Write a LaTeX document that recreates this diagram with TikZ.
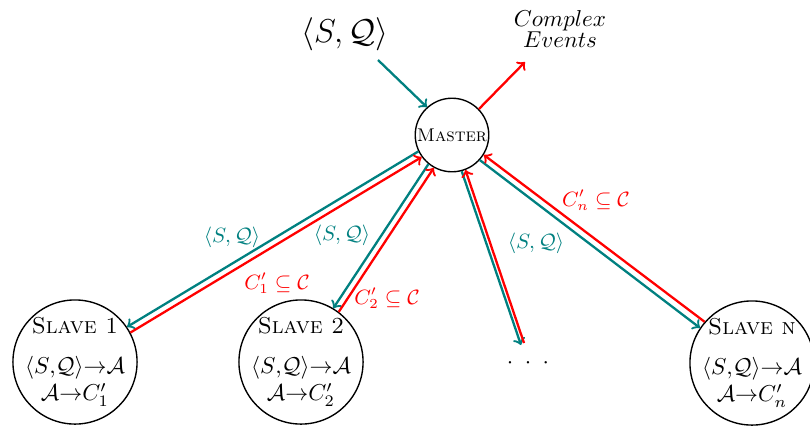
\documentclass[tikz,border=0pt]{standalone}
\begin{document}
\begin{tikzpicture}[x=0.435pt,y=-0.435pt,
  every node/.style={inner sep=0pt},
  slavebox/.style={circle,draw,semithick,minimum size=54pt,align=center,inner sep=-1.5pt},
  masterbox/.style={circle,draw,semithick,minimum size=32pt,inner sep=0pt,font=\footnotesize},
  qarrow/.style={->,line width=1pt,teal},
  carrow/.style={->,line width=1pt,red},
  qlabel/.style={teal,font=\small},
  clabel/.style={red,font=\small}]
\useasboundingbox (0,0) rectangle (810,426);
% nodes
\node[masterbox] (m) at (452,135) {\textsc{Master}};
\node[slavebox] (s1) at (75,362) {\textsc{Slave 1}\\[5pt] $\langle S{,}\mathcal{Q}\rangle{\rightarrow}\mathcal{A}$\\ $\mathcal{A}{\rightarrow}C'_1$};
\node[slavebox] (s2) at (301,362) {\textsc{Slave 2}\\[5pt] $\langle S{,}\mathcal{Q}\rangle{\rightarrow}\mathcal{A}$\\ $\mathcal{A}{\rightarrow}C'_2$};
\node[slavebox] (sn) at (752,363) {\textsc{Slave n}\\[5pt] $\langle S{,}\mathcal{Q}\rangle{\rightarrow}\mathcal{A}$\\ $\mathcal{A}{\rightarrow}C'_n$};
\node (dots) at (528,363) {$\cdot\;\cdot\;\cdot$};
\node[font=\Large] (sq) at (345,34) {$\langle S, \mathcal{Q}\rangle$};
\node[align=center] (ce) at (560,29) {$Complex$\\[-3pt]$Events$};
\coordinate (sqend) at (378,60);
\coordinate (ceend) at (525,62);
\coordinate (dq) at (521,345);
\coordinate (dc) at (524,343);
% top arrows
\draw[qarrow] (sqend) -- (m.132);
\draw[carrow] (m.44) -- (ceend);
% slave 1
\draw[qarrow] (m.206) -- (s1.34);
\draw[carrow] (s1.28) -- (m.216);
% slave 2
\draw[qarrow] (m.231) -- (s2.59);
\draw[carrow] (s2.53) -- (m.241);
% dots
\draw[qarrow] (m.285) -- (dq);
\draw[carrow] (dc) -- (m.291);
% slave n
\draw[qarrow] (m.318) -- (sn.146);
\draw[carrow] (sn.139) -- (m.328);
% labels
\node[qlabel] at (232,237) {$\langle S, \mathcal{Q}\rangle$};
\node[clabel] at (277,283) {$C'_1\subseteq\mathcal{C}$};
\node[qlabel] at (342,235) {$\langle S, \mathcal{Q}\rangle$};
\node[clabel] at (387,298) {$C'_2\subseteq\mathcal{C}$};
\node[qlabel] at (536,243) {$\langle S, \mathcal{Q}\rangle$};
\node[clabel] at (596,200) {$C'_n\subseteq\mathcal{C}$};
\end{tikzpicture}
\end{document}
